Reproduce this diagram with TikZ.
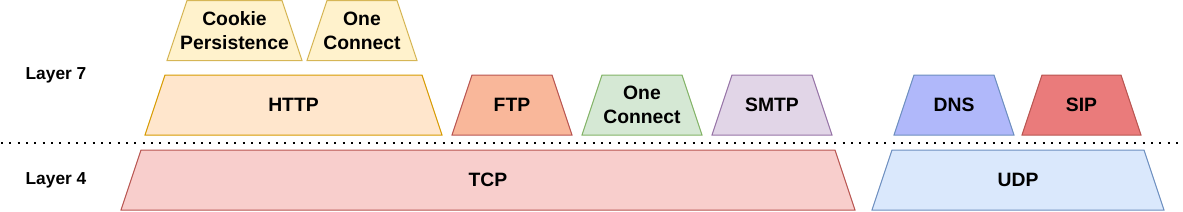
\documentclass[tikz,border=0pt]{standalone}
\usepackage{fontspec}
\setmainfont{Liberation Sans}
\usetikzlibrary{backgrounds}
\definecolor{cookiefill}{HTML}{FFF2CC}
\definecolor{cookieline}{HTML}{D6B656}
\definecolor{httpfill}{HTML}{FFE6CC}
\definecolor{httpline}{HTML}{D79B00}
\definecolor{ftpfill}{HTML}{F9B79A}
\definecolor{redline}{HTML}{B85450}
\definecolor{greenfill}{HTML}{D5E8D4}
\definecolor{greenline}{HTML}{82B366}
\definecolor{smtpfill}{HTML}{E1D5E7}
\definecolor{smtpline}{HTML}{9673A6}
\definecolor{dnsfill}{HTML}{B0B8FA}
\definecolor{blueline}{HTML}{6C8EBF}
\definecolor{sipfill}{HTML}{EA7B7B}
\definecolor{tcpfill}{HTML}{F8CECC}
\definecolor{udpfill}{HTML}{DAE8FC}

\begin{document}
\begin{tikzpicture}[
  x=0.75pt,y=-0.75pt,
  proto/.style={minimum height=45pt,inner sep=0pt,outer sep=0pt,align=center,
    font=\bfseries\fontsize{14.5}{18}\selectfont},
  tray/.style={line width=0.75pt,line join=miter},
  layertag/.style={font=\bfseries\fontsize{13}{15}\selectfont},
  divider/.style={line width=1.5pt,dash pattern=on 1.5pt off 4.75pt}
]
\useasboundingbox (0,0) rectangle (1183,211);

% layer 7 add-ons
\node[proto,minimum width=101.25pt] (cookie) at (234.5,30.5) {Cookie\\Persistence};
\node[proto,minimum width=82.5pt] (oneconnecthttp) at (362,30.5) {One\\Connect};

% layer 7 protocols
\node[proto,minimum width=222.75pt] (http) at (293.5,105) {HTTP};
\node[proto,minimum width=90pt] (ftp) at (512,105) {FTP};
\node[proto,minimum width=90pt] (oneconnect) at (642,105) {One\\Connect};
\node[proto,minimum width=90pt] (smtp) at (772,105) {SMTP};
\node[proto,minimum width=90pt] (dns) at (954,105) {DNS};
\node[proto,minimum width=89.25pt] (sip) at (1081.5,105) {SIP};

% layer 4 protocols
\node[proto,minimum width=550.5pt] (tcp) at (488,180) {TCP};
\node[proto,minimum width=219pt] (udp) at (1018,180) {UDP};

% trapezoid outlines behind the names
\begin{scope}[on background layer]
  \foreach \n/\f/\d in {cookie/cookiefill/cookieline,oneconnecthttp/cookiefill/cookieline,
      http/httpfill/httpline,ftp/ftpfill/redline,oneconnect/greenfill/greenline,
      smtp/smtpfill/smtpline,dns/dnsfill/blueline,sip/sipfill/redline,
      tcp/tcpfill/redline,udp/udpfill/blueline}
    \draw[tray,fill=\f,draw=\d] (\n.south west) -- (\n.south east)
      -- ([xshift=-15pt]\n.north east) -- ([xshift=15pt]\n.north west) -- cycle;
\end{scope}

% divider
\coordinate (divleft) at (1,143);
\coordinate (divright) at (1183,143);
\draw[divider] (divleft) -- (divright);

% layer tags
\node[layertag] (layer7) at (56,75) {Layer 7};
\node[layertag] (layer4) at (56,180) {Layer 4};
\end{tikzpicture}
\end{document}
